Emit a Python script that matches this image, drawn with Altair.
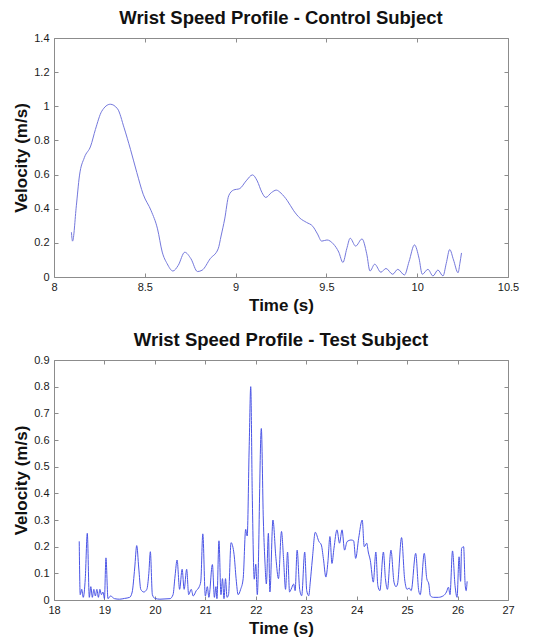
import altair as alt
import pandas as pd

# ---- Control subject (top panel) ----
ctrl_time = [8.096, 8.102, 8.123, 8.14, 8.167, 8.202, 8.228, 8.263, 8.31, 8.35,
             8.386, 8.421, 8.456, 8.491, 8.535, 8.57, 8.596, 8.623, 8.655, 8.684,
             8.72, 8.754, 8.79, 8.816, 8.86, 8.904, 8.92, 8.94, 8.962, 8.988,
             9.023, 9.058, 9.093, 9.119, 9.145, 9.166, 9.198, 9.224, 9.25, 9.285,
             9.32, 9.355, 9.39, 9.425, 9.451, 9.474, 9.503, 9.538, 9.568, 9.591,
             9.612, 9.631, 9.661, 9.696, 9.722, 9.74, 9.766, 9.80, 9.828, 9.865,
             9.893, 9.93, 9.955, 9.985, 10.01, 10.028, 10.059, 10.087, 10.114, 10.142,
             10.16, 10.179, 10.2, 10.225, 10.235, 10.244]
ctrl_vel = [0.262, 0.21, 0.417, 0.592, 0.699, 0.767, 0.864, 0.971, 1.012, 0.985,
            0.874, 0.748, 0.612, 0.485, 0.388, 0.282, 0.146, 0.078, 0.035, 0.068,
            0.145, 0.107, 0.032, 0.04, 0.107, 0.165, 0.24, 0.34, 0.476, 0.509,
            0.518, 0.563, 0.598, 0.563, 0.495, 0.466, 0.495, 0.509, 0.491, 0.447,
            0.388, 0.344, 0.32, 0.297, 0.252, 0.21, 0.217, 0.194, 0.146, 0.085,
            0.165, 0.227, 0.181, 0.223, 0.136, 0.035, 0.075, 0.028, 0.05, 0.016,
            0.045, 0.012, 0.09, 0.188, 0.11, 0.016, 0.045, 0.006, 0.041, 0.006,
            0.08, 0.161, 0.10, 0.025, 0.08, 0.141]

# ---- Test subject (bottom panel) ----
test_time = [18.50, 18.52, 18.55, 18.58, 18.62, 18.66, 18.70, 18.73, 18.76, 18.79,
             18.82, 18.85, 18.88, 18.91, 18.94, 18.97, 19.00, 19.03, 19.07, 19.12,
             19.20, 19.30, 19.40, 19.50, 19.55, 19.60, 19.64, 19.68, 19.72, 19.78,
             19.84, 19.88, 19.91, 19.95, 20.00, 20.10, 20.20, 20.30, 20.36, 20.40,
             20.44, 20.49, 20.54, 20.58, 20.63, 20.67, 20.72, 20.76, 20.82, 20.88,
             20.91, 20.95, 21.00, 21.04, 21.07, 21.14, 21.18, 21.21, 21.23, 21.27,
             21.31, 21.34, 21.37, 21.40, 21.43, 21.46, 21.51, 21.57, 21.61, 21.65,
             21.70, 21.75, 21.80, 21.83, 21.87, 21.90, 21.93, 21.97, 22.00, 22.03,
             22.11, 22.15, 22.18, 22.21, 22.25, 22.28, 22.34, 22.40, 22.45, 22.51,
             22.55, 22.59, 22.63, 22.67, 22.70, 22.75, 22.78, 22.82, 22.87, 22.91,
             22.97, 23.01, 23.05, 23.08, 23.12, 23.18, 23.25, 23.30, 23.34, 23.39,
             23.43, 23.47, 23.51, 23.55, 23.61, 23.66, 23.71, 23.76, 23.81, 23.89,
             23.94, 23.98, 24.04, 24.11, 24.15, 24.20, 24.23, 24.27, 24.33, 24.38,
             24.42, 24.46, 24.53, 24.57, 24.61, 24.68, 24.74, 24.78, 24.81, 24.89,
             24.95, 25.00, 25.04, 25.08, 25.17, 25.23, 25.26, 25.34, 25.39, 25.43,
             25.46, 25.52, 25.62, 25.72, 25.78, 25.82, 25.85, 25.90, 25.95, 25.99,
             26.03, 26.06, 26.08, 26.12, 26.15, 26.17, 26.19]
test_vel = [0.22, 0.02, 0.04, 0.01, 0.08, 0.25, 0.01, 0.05, 0.01, 0.04,
            0.015, 0.04, 0.01, 0.04, 0.02, 0.03, 0.005, 0.158, 0.005, 0.015,
            0.005, 0.003, 0.006, 0.01, 0.03, 0.12, 0.204, 0.12, 0.04, 0.03,
            0.04, 0.10, 0.181, 0.02, 0.006, 0.003, 0.004, 0.005, 0.02, 0.09,
            0.15, 0.04, 0.115, 0.04, 0.115, 0.02, 0.04, 0.015, 0.035, 0.05,
            0.07, 0.248, 0.015, 0.05, 0.01, 0.133, 0.01, 0.05, 0.005, 0.222,
            0.02, 0.08, 0.005, 0.08, 0.01, 0.02, 0.215, 0.17, 0.08, 0.02,
            0.04, 0.08, 0.265, 0.24, 0.58, 0.80, 0.40, 0.078, 0.134, 0.02,
            0.643, 0.30, 0.15, 0.06, 0.25, 0.03, 0.30, 0.156, 0.08, 0.257,
            0.156, 0.04, 0.18, 0.03, 0.04, 0.06, 0.035, 0.187, 0.04, 0.016,
            0.18, 0.035, 0.016, 0.067, 0.15, 0.254, 0.22, 0.206, 0.156, 0.086,
            0.143, 0.238, 0.137, 0.194, 0.263, 0.213, 0.263, 0.187, 0.219, 0.225,
            0.222, 0.156, 0.232, 0.30, 0.20, 0.213, 0.18, 0.149, 0.067, 0.18,
            0.054, 0.035, 0.18, 0.08, 0.04, 0.187, 0.067, 0.05, 0.06, 0.234,
            0.08, 0.04, 0.045, 0.035, 0.175, 0.035, 0.02, 0.175, 0.08, 0.06,
            0.016, 0.01, 0.01, 0.016, 0.03, 0.048, 0.02, 0.184, 0.054, 0.01,
            0.162, 0.07, 0.194, 0.20, 0.06, 0.035, 0.07]

ctrl_x_ticks = [8, 8.5, 9, 9.5, 10, 10.5]
ctrl_y_ticks = [0, 0.2, 0.4, 0.6, 0.8, 1.0, 1.2, 1.4]
test_x_ticks = [18, 19, 20, 21, 22, 23, 24, 25, 26, 27]
test_y_ticks = [0, 0.1, 0.2, 0.3, 0.4, 0.5, 0.6, 0.7, 0.8, 0.9]

FONT = "Liberation Sans"
FRAME = "#8c8c8c"


def panel(time, vel, xt, yt, title, color, h):
    df = pd.DataFrame({"t": time, "v": vel})
    base = alt.Chart(df)
    xs = alt.Scale(domain=[xt[0], xt[-1]], nice=False, zero=False)
    ys = alt.Scale(domain=[yt[0], yt[-1]], nice=False, zero=False)
    main = base.mark_line(color=color, strokeWidth=1, interpolate="monotone").encode(
        x=alt.X("t:Q", scale=xs,
                axis=alt.Axis(values=xt, format="~g", title="Time (s)", orient="bottom",
                              labelPadding=4, titlePadding=5)),
        y=alt.Y("v:Q", scale=ys,
                axis=alt.Axis(values=yt, format="~g", title="Velocity (m/s)", orient="left",
                              labelPadding=5, titlePadding=3)),
    )
    ghost = base.mark_line(strokeOpacity=0).encode(
        x=alt.X("t:Q", scale=xs,
                axis=alt.Axis(values=xt, orient="top", labels=False, title=None)),
        y=alt.Y("v:Q", scale=ys,
                axis=alt.Axis(values=yt, orient="right", labels=False, title=None)),
    )
    return (
        alt.layer(main, ghost)
        .resolve_axis(x="independent", y="independent")
        .properties(
            width=454,
            height=h,
            title=alt.TitleParams(title, font=FONT, fontSize=18.5, fontWeight="bold",
                                  color="#111111", offset=5, anchor="middle"),
        )
    )


top = panel(ctrl_time, ctrl_vel, ctrl_x_ticks, ctrl_y_ticks,
            "Wrist Speed Profile - Control Subject", "#7478dc", 239)
bottom = panel(test_time, test_vel, test_x_ticks, test_y_ticks,
               "Wrist Speed Profile - Test Subject", "#4b55e6", 240)

chart = (
    alt.vconcat(top, bottom, spacing=16)
    .properties(padding={"left": 4, "top": 0, "right": 5, "bottom": 0})
    .configure_view(stroke=FRAME, strokeWidth=1)
    .configure_axis(
        domain=False,
        grid=False,
        offset=-4,
        tickSize=4,
        tickColor=FRAME,
        labelFont=FONT,
        labelFontSize=11,
        labelColor="#1a1a1a",
        labelFlush=False,
        labelOverlap=False,
        titleFont=FONT,
        titleFontSize=17,
        titleFontWeight="bold",
        titleColor="#111111",
    )
)

chart.save("out.html", embed_options={"renderer": "svg", "actions": False})
